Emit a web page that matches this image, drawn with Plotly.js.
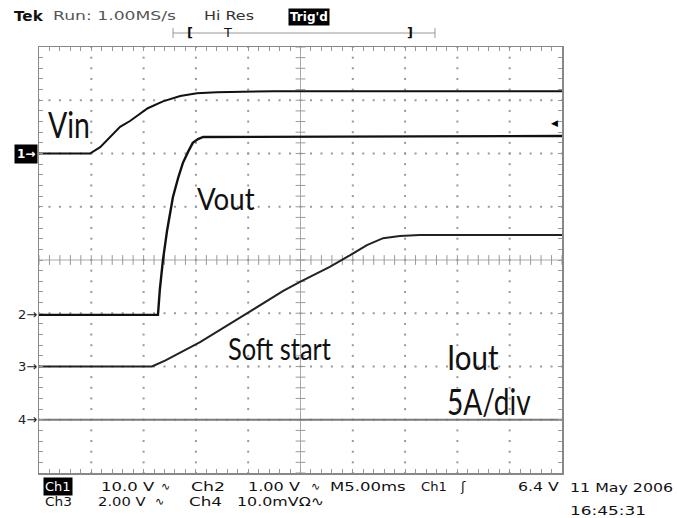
<!DOCTYPE html>
<html>
<head>
<meta charset="utf-8">
<script src="https://cdn.plot.ly/plotly-3.0.1.min.js"></script>
<style>
html,body{margin:0;padding:0;background:#fff;}
#chart{width:677px;height:518px;}
</style>
</head>
<body>
<div id="chart"></div>
<script>
// ---- Data (time in divisions of 5 ms, amplitude in divisions) ----
var vinT   = [0, 0.975, 1.17, 1.36, 1.55, 1.74, 1.93, 2.08, 2.37, 2.70, 3.02, 3.40, 4.5, 10];
var vinV   = [2.0, 2.0, 2.12, 2.31, 2.50, 2.61, 2.74, 2.85, 2.98, 3.08, 3.13, 3.15, 3.17, 3.17];

var voutT  = [0, 2.275, 2.31, 2.37, 2.45, 2.56, 2.66, 2.75, 2.85, 2.94, 3.04, 3.14, 10];
var voutV  = [-1.03, -1.03, -0.56, 0.0, 0.56, 1.18, 1.54, 1.82, 2.03, 2.20, 2.27, 2.31, 2.33];

var ssT    = [0, 2.16, 2.41, 2.70, 3.08, 4.03, 4.67, 4.99, 5.56, 5.95, 6.27, 6.58, 6.90, 7.28, 10];
var ssV    = [-2.0, -2.0, -1.89, -1.74, -1.54, -0.97, -0.58, -0.41, -0.13, 0.09, 0.28, 0.41, 0.45, 0.47, 0.47];

var ioutT  = [0, 10];
var ioutV  = [-3.0, -3.0];

var channelMarkers = ["1", "2", "3", "4"];
var markerLevels   = [2.0, -1.03, -2.0, -3.0];
var triggerLevel   = 2.57;

var traceLabels = ["Vin", "Vout", "Soft start", "Iout", "5A/div"];

// ---- Geometry helpers (plot area in page pixels) ----
var L = 39, R = 562, T = 47, B = 473;
function px(x){ return (x - L) / (R - L); }
function py(y){ return (B - y) / (B - T); }

// ---- Graticule ----
var dotX = [], dotY = [];
for (var gx = 1; gx <= 9; gx++) {
  if (gx === 5) continue;
  for (var k = 0; k <= 40; k++) { dotX.push(gx); dotY.push(-4 + k * 0.2); }
}
for (var gy = -3; gy <= 3; gy++) {
  if (gy === 0) continue;
  for (var k2 = 0; k2 <= 50; k2++) { dotX.push(k2 * 0.2); dotY.push(gy); }
}
var tickHX = [], tickHY = [], tickVX = [], tickVY = [];
for (var a = 0; a <= 50; a++) { tickHX.push(a * 0.2); tickHY.push(0); }
for (var b = 0; b <= 40; b++) { tickVX.push(5); tickVY.push(-4 + b * 0.2); }

var traces = [
  {x: dotX, y: dotY, mode: 'markers', type: 'scatter', hoverinfo: 'skip',
   marker: {symbol: 'square', size: 2, color: '#999'}},
  {x: tickHX, y: tickHY, mode: 'markers', type: 'scatter', hoverinfo: 'skip',
   marker: {symbol: 'line-ns', size: 7, line: {width: 1, color: '#999'}}},
  {x: tickVX, y: tickVY, mode: 'markers', type: 'scatter', hoverinfo: 'skip',
   marker: {symbol: 'line-ew', size: 7, line: {width: 1, color: '#999'}}},
  {x: ioutT, y: ioutV, mode: 'lines', type: 'scatter', line: {color: '#7a7a7a', width: 2}},
  {x: ssT, y: ssV, mode: 'lines', type: 'scatter', line: {color: '#222', width: 2}},
  {x: voutT, y: voutV, mode: 'lines', type: 'scatter', line: {color: '#111', width: 2.4}},
  {x: vinT, y: vinV, mode: 'lines', type: 'scatter', line: {color: '#111', width: 2}}
];

var statusFont = 'DejaVu Sans, sans-serif';
var labelFont = 'Lato, Open Sans, sans-serif';

function txt(x, y, s, opt) {
  opt = opt || {};
  return {
    xref: 'paper', yref: 'paper', x: px(x), y: py(y), text: s, showarrow: false,
    xanchor: opt.anchor || 'left', yanchor: 'middle', borderpad: opt.pad || 0,
    bgcolor: opt.bg || 'rgba(0,0,0,0)',
    font: {family: opt.family || statusFont, size: opt.size || 13, color: opt.color || '#111',
           weight: opt.weight || 'normal'}
  };
}

var ann = [];
// header
ann.push(txt(13, 16, 'Tek', {weight: 'bold', size: 14}));
ann.push(txt(52, 16, 'Run: 1.00MS/s', {color: '#555', size: 13}));
ann.push(txt(203, 16, 'Hi Res', {color: '#333', size: 13}));
ann.push(txt(288, 17, "Trig'd", {color: '#fff', bg: '#000', size: 12, weight: 'bold', pad: 1}));
ann.push(txt(190, 33, '[', {anchor: 'center', size: 13, weight: 'bold'}));
ann.push(txt(227, 32, 'T', {anchor: 'center', size: 13}));
ann.push(txt(410, 33, ']', {anchor: 'center', size: 13, weight: 'bold'}));

// channel markers
for (var i = 0; i < channelMarkers.length; i++) {
  var yy = B - (markerLevels[i] + 4) / 8 * (B - T);
  if (i === 0) {
    ann.push(txt(38, yy, channelMarkers[i] + '→', {anchor: 'right', color: '#fff', bg: '#000', size: 12, weight: 'bold', pad: 2}));
  } else {
    ann.push(txt(38, yy, channelMarkers[i] + '→', {anchor: 'right', color: '#222', size: 13}));
  }
}
// trigger level arrow
ann.push({xref: 'x', yref: 'y', x: 9.85, y: triggerLevel, text: '◀', showarrow: false,
          font: {family: statusFont, size: 9, color: '#000'}});

// big labels
ann.push(txt(47, 124, traceLabels[0], {family: labelFont, size: 36}));
ann.push(txt(196, 198, traceLabels[1], {family: labelFont, size: 31}));
ann.push(txt(227, 348, traceLabels[2], {family: labelFont, size: 31}));
ann.push(txt(446, 356, traceLabels[3], {family: labelFont, size: 35}));
ann.push(txt(446, 401, traceLabels[4], {family: labelFont, size: 36}));

// footer row 1
ann.push(txt(43, 486, 'Ch1', {color: '#fff', bg: '#000', size: 13, pad: 1}));
ann.push(txt(100, 486, '10.0 V', {size: 13}));
ann.push(txt(160, 486, '∿', {size: 11}));
ann.push(txt(190, 486, 'Ch2', {size: 13}));
ann.push(txt(247, 486, '1.00 V', {size: 13}));
ann.push(txt(310, 486, '∿', {size: 11}));
ann.push(txt(329, 486, 'M5.00ms', {size: 13}));
ann.push(txt(420, 486, 'Ch1 ', {size: 13}));
ann.push(txt(459, 486, 'ʃ', {size: 13}));
ann.push(txt(517, 486, '6.4 V', {size: 13}));
ann.push(txt(569, 487, '11 May 2006', {size: 13}));
// footer row 2
ann.push(txt(44, 501, 'Ch3', {size: 13}));
ann.push(txt(97, 501, '2.00 V', {size: 13}));
ann.push(txt(154, 501, '∿', {size: 11}));
ann.push(txt(188, 501, 'Ch4', {size: 13}));
ann.push(txt(236, 501, '10.0mVΩ∿', {size: 13}));
ann.push(txt(569, 510, '16:45:31', {size: 13}));

// target text widths (page pixels) used to match the narrow/wide glyphs of the original
var fitWidths = {
  'Vin': 42, 'Vout': 58, 'Soft start': 103, 'Iout': 52, '5A/div': 84,
  'Tek': 30, 'Run: 1.00MS/s': 123, 'Hi Res': 50,
  '10.0 V': 54, 'Ch2': 34, '1.00 V': 52, 'M5.00ms': 76, 'Ch1 ': 30, '6.4 V': 41,
  '11 May 2006': 103, 'Ch3': 27, '2.00 V': 48, 'Ch4': 33, '10.0mVΩ∿': 87, '16:45:31': 76
};

var shapes = [
  {type: 'line', xref: 'x', yref: 'y', x0: 5, x1: 5, y0: -4, y1: 4, line: {color: '#aaa', width: 1}, layer: 'below'},
  {type: 'line', xref: 'x', yref: 'y', x0: 0, x1: 10, y0: 0, y1: 0, line: {color: '#aaa', width: 1}, layer: 'below'},
  // record bar
  {type: 'line', xref: 'paper', yref: 'paper', x0: px(173), x1: px(435), y0: py(33), y1: py(33), line: {color: '#999', width: 1}},
  {type: 'line', xref: 'paper', yref: 'paper', x0: px(173), x1: px(173), y0: py(28), y1: py(38), line: {color: '#999', width: 1}},
  {type: 'line', xref: 'paper', yref: 'paper', x0: px(435), x1: px(435), y0: py(28), y1: py(38), line: {color: '#999', width: 1}}
];

var axisCommon = {
  showgrid: false, zeroline: false, showticklabels: false,
  ticks: 'inside', ticklen: 4, tickcolor: '#999', tickwidth: 1,
  showline: true, linecolor: '#888', linewidth: 1.5, mirror: 'allticks', fixedrange: true
};

var layout = {
  width: 677, height: 518,
  margin: {l: L, r: 677 - R, t: T, b: 518 - B, pad: 0},
  paper_bgcolor: '#fff', plot_bgcolor: '#fff',
  showlegend: false,
  xaxis: Object.assign({range: [0, 10], tick0: 0, dtick: 0.2}, axisCommon),
  yaxis: Object.assign({range: [-4, 4], tick0: -4, dtick: 0.2}, axisCommon),
  annotations: ann,
  shapes: shapes
};

function fitTexts() {
  var nodes = document.querySelectorAll('#chart text.annotation-text');
  nodes.forEach(function (t) {
    var w = fitWidths[t.textContent];
    if (!w) return;
    var bw = t.getBBox().width;
    if (!bw) return;
    t.style.transformBox = 'fill-box';
    t.style.transformOrigin = '0% 50%';
    t.style.transform = 'scaleX(' + (w / bw) + ')';
  });
}

Plotly.newPlot('chart', traces, layout, {staticPlot: true, displayModeBar: false}).then(fitTexts);
fitTexts();
</script>
</body>
</html>
